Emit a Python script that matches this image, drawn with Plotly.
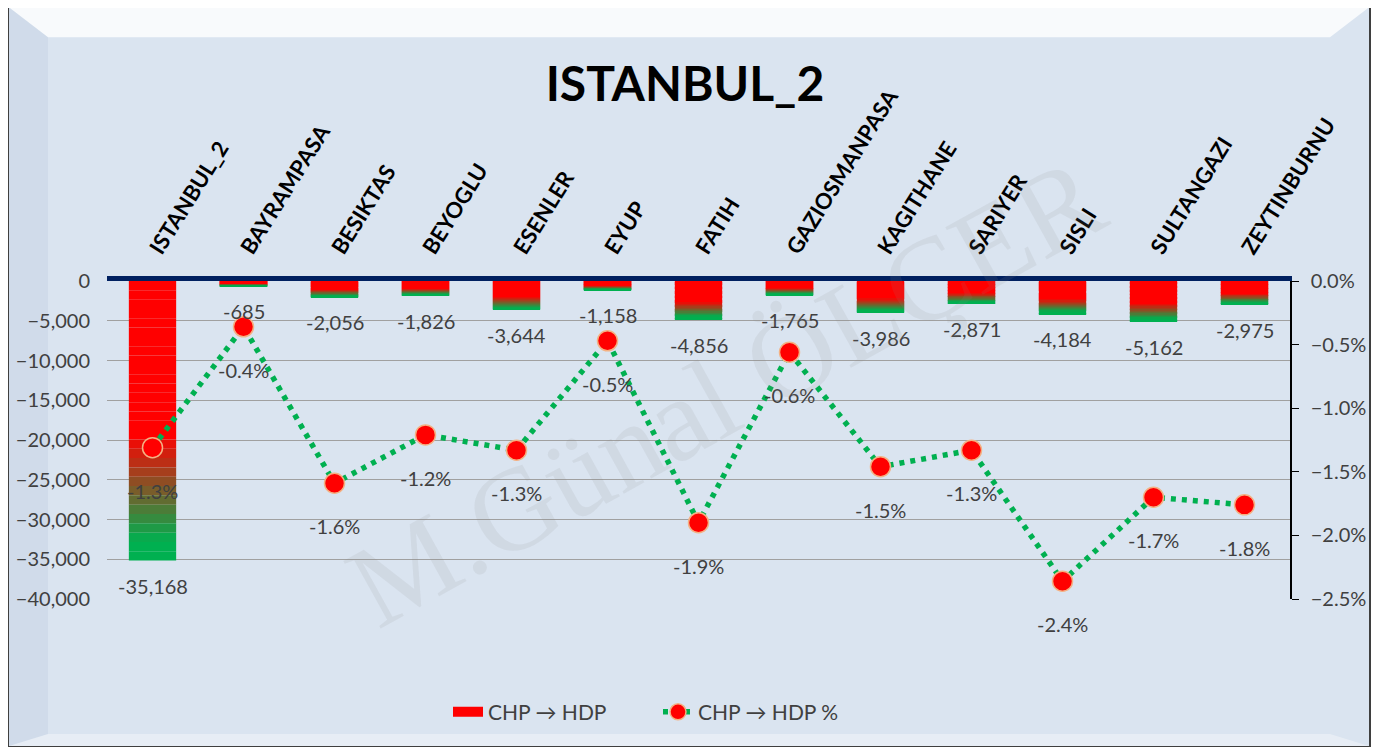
import plotly.graph_objects as go

districts = ["ISTANBUL_2", "BAYRAMPASA", "BESIKTAS", "BEYOGLU", "ESENLER", "EYUP", "FATIH",
             "GAZIOSMANPASA", "KAGITHANE", "SARIYER", "SISLI", "SULTANGAZI", "ZEYTINBURNU"]
vote_change = [-35168, -685, -2056, -1826, -3644, -1158, -4856, -1765, -3986, -2871, -4184, -5162, -2975]
pct_change = [-0.0131, -0.0036, -0.0159, -0.0121, -0.0133, -0.0047, -0.0190, -0.0056, -0.0146,
              -0.0133, -0.0236, -0.0170, -0.0176]

# the page adds an 8px body margin, so work in reference pixels minus 8
OFF = 8
W, H = 1385 - 2 * OFF, 755 - 2 * OFF
PLOT_L, PLOT_R, PLOT_T, PLOT_B = 107, 1290, 280.5, 599.5
ML, MR, MT, MB = PLOT_L - OFF, W - (PLOT_R - OFF), PLOT_T - OFF, H - (PLOT_B - OFF)
FONT = "Lato"
TXT = "#404040"


def px_x(x):
    return (x - PLOT_L) / (PLOT_R - PLOT_L)


def px_y(y):
    return (PLOT_B - y) / (PLOT_B - PLOT_T)


def blend(f):
    r = round(255 * (1 - f))
    g = round(176 * f)
    b = round(80 * f)
    return f"rgb({r},{g},{b})"


fig = go.Figure()

# gradient bars: stack thin slices, red at the top fading to green at the bottom
n_slices = 30
for k in range(n_slices):
    t = (k + 0.5) / n_slices
    f = min(max((t - 0.55) / 0.38, 0), 1)
    fig.add_trace(go.Bar(
        x=districts, y=[v / n_slices for v in vote_change],
        marker=dict(color=blend(f), line=dict(width=0)),
        showlegend=False, hoverinfo="skip",
    ))

# legend proxy for the bars (wide red swatch)
fig.add_trace(go.Scatter(
    x=[None], y=[None], mode="lines", name="CHP → HDP",
    line=dict(color="#ff0000", width=17),
))

fig.add_trace(go.Scatter(
    x=districts, y=pct_change, yaxis="y2", mode="lines+markers",
    name="CHP → HDP %",
    line=dict(color="#00b050", width=5.5, dash="5px,6px"),
    marker=dict(color="#ff0000", size=20, line=dict(color="#f4b183", width=1.5)),
))

annotations = []
for d, v in zip(districts, vote_change):
    annotations.append(dict(x=d, y=v, xref="x", yref="y", text=f"{v:,}", showarrow=False,
                            yanchor="top", yshift=-11, font=dict(family=FONT, size=20, color=TXT)))
for d, p in zip(districts, pct_change):
    annotations.append(dict(x=d, y=p, xref="x", yref="y2", text=f"{p * 100:.1f}%", showarrow=False,
                            yanchor="top", yshift=-29, font=dict(family=FONT, size=20, color=TXT)))

# watermark
annotations.append(dict(x=px_x(725), y=px_y(392), xref="paper", yref="paper", text="M.Günal ÖLÇER",
                        showarrow=False, textangle=-29, xanchor="center", yanchor="middle",
                        font=dict(family="Liberation Serif", size=118, color="rgba(140,140,140,0.12)")))

shapes = [
    dict(type="rect", xref="paper", yref="paper", x0=px_x(8), x1=px_x(1370), y0=px_y(748), y1=px_y(5),
         fillcolor="#dae4f0", line=dict(color="#3f3f3f", width=2), layer="below"),
    dict(type="path", xref="paper", yref="paper", layer="below", line=dict(width=0),
         fillcolor="rgba(255,255,255,0.8)",
         path=f"M {px_x(9)} {px_y(6)} L {px_x(1369)} {px_y(6)} L {px_x(1330)} {px_y(36)} "
              f"L {px_x(48)} {px_y(36)} Z"),
    dict(type="path", xref="paper", yref="paper", layer="below", line=dict(width=0),
         fillcolor="rgba(150,170,195,0.14)",
         path=f"M {px_x(9)} {px_y(6)} L {px_x(48)} {px_y(36)} L {px_x(48)} {px_y(735)} "
              f"L {px_x(9)} {px_y(747)} Z"),
    dict(type="path", xref="paper", yref="paper", layer="below", line=dict(width=0),
         fillcolor="rgba(255,255,255,0.35)",
         path=f"M {px_x(9)} {px_y(747)} L {px_x(48)} {px_y(735)} L {px_x(1330)} {px_y(735)} "
              f"L {px_x(1369)} {px_y(747)} Z"),
]

fig.update_layout(
    width=W, height=H,
    margin=dict(l=ML, r=MR, t=MT, b=MB, autoexpand=False),
    paper_bgcolor="white",
    plot_bgcolor="rgba(0,0,0,0)",
    barmode="relative",
    bargap=0.48,
    font=dict(family=FONT, color=TXT),
    title=dict(text="<b>ISTANBUL_2</b>", x=(685 - OFF) / W, xanchor="center", y=1 - (84 - OFF) / H,
               yanchor="middle", font=dict(family=FONT, size=48, color="black")),
    xaxis=dict(type="category", range=[-0.5, len(districts) - 0.5], side="top", showline=True,
               linecolor="#002060", linewidth=5, tickangle=-58,
               tickfont=dict(family=FONT, size=22, color="black", weight="bold"),
               ticks="", showgrid=False, ticklabelstandoff=6),
    yaxis=dict(range=[-40000, 0], dtick=5000, tickformat=",", showgrid=True, gridcolor="#a0a0a0",
               gridwidth=1, zeroline=False, tickfont=dict(family=FONT, size=20, color=TXT),
               ticklabelstandoff=16),
    yaxis2=dict(range=[-0.025, 0], dtick=0.005, tickformat=".1%", overlaying="y", side="right",
                showgrid=False, zeroline=False, showline=True, linecolor="black", linewidth=1.5,
                ticks="outside", ticklen=7, tickcolor="black", ticklabelstandoff=8,
                tickfont=dict(family=FONT, size=20, color=TXT)),
    legend=dict(orientation="h", x=px_x(658), xanchor="center", y=px_y(713), yanchor="middle",
                entrywidth=165, entrywidthmode="pixels",
                font=dict(family=FONT, size=21, color=TXT), bgcolor="rgba(0,0,0,0)"),
    annotations=annotations,
    shapes=shapes,
)

fig.write_html("out.html")
